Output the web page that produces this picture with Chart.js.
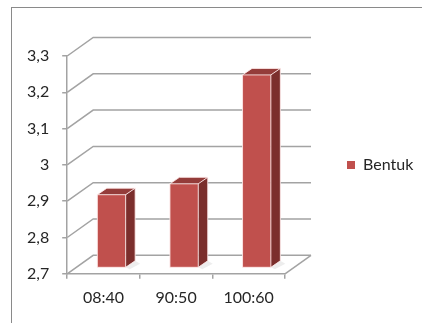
<!DOCTYPE html>
<html>
<head>
<meta charset="utf-8">
<script src="https://cdn.jsdelivr.net/npm/chart.js@4/dist/chart.umd.min.js"></script>
<style>
  body { margin: 0; background: #fff; }
  #wrap { width: 422px; height: 323px; position: relative; }
</style>
</head>
<body>
<div id="wrap"><canvas id="barChart"></canvas></div>
<script>
// Data
const categories = ['08:40', '90:50', '100:60'];
const seriesName = 'Bentuk';
const values = [2.9, 2.93, 3.23];
const yTicks = [2.7, 2.8, 2.9, 3.0, 3.1, 3.2, 3.3];

// 3D look: box depth, bar plane offset and bar depth
const DEPTH = { x: 26, y: -18.5 };
const BAR_SHIFT = { x: 8, y: -6.5 };
const BAR_DEPTH = { x: 9.5, y: -6.5 };

Chart.defaults.font.family = "Lato, 'Open Sans', sans-serif";
Chart.defaults.font.size = 16;
Chart.defaults.color = '#262626';

const threeD = {
    id: 'threeD',
    beforeDraw(chart) {
        const { ctx, chartArea: a, scales: { y } } = chart;
        ctx.save();
        ctx.fillStyle = '#fff';
        ctx.fillRect(0, 0, chart.width, chart.height);
        // outer frame
        ctx.strokeStyle = '#8a8a8a';
        ctx.lineWidth = 1;
        ctx.strokeRect(11.5, 7.5, chart.width + 20, chart.height + 20);
        // side wall + back wall grid
        ctx.strokeStyle = '#a3a3a3';
        ctx.lineWidth = 1.5;
        y.ticks.forEach(t => {
            const py = y.getPixelForValue(t.value);
            ctx.beginPath();
            ctx.moveTo(a.left, py);
            ctx.lineTo(a.left + DEPTH.x, py + DEPTH.y);
            ctx.lineTo(a.right + DEPTH.x, py + DEPTH.y);
            ctx.stroke();
        });
        // floor right edge
        ctx.beginPath();
        ctx.moveTo(a.right, a.bottom);
        ctx.lineTo(a.right + DEPTH.x, a.bottom + DEPTH.y);
        ctx.stroke();
        ctx.restore();
    },
    beforeDatasetsDraw(chart) {
        chart.ctx.save();
        chart.ctx.translate(BAR_SHIFT.x, BAR_SHIFT.y);
    },
    afterDatasetsDraw(chart) {
        const ctx = chart.ctx;
        chart.getDatasetMeta(0).data.forEach(bar => {
            const { x, y, base, width } = bar.getProps(['x', 'y', 'base', 'width'], true);
            const bottom = Math.min(base, chart.chartArea.bottom);
            const l = x - width / 2, r = x + width / 2;
            const dx = BAR_DEPTH.x, dy = BAR_DEPTH.y;
            // shadow on floor
            ctx.fillStyle = 'rgba(0,0,0,0.07)';
            ctx.beginPath();
            ctx.moveTo(r, bottom);
            ctx.lineTo(r + dx, bottom + dy);
            ctx.lineTo(r + dx + 5, bottom + dy + 3);
            ctx.lineTo(r + 4, bottom + 2);
            ctx.closePath();
            ctx.fill();
            // side
            ctx.fillStyle = '#7b2e2c';
            ctx.beginPath();
            ctx.moveTo(r, y);
            ctx.lineTo(r + dx, y + dy);
            ctx.lineTo(r + dx, bottom + dy);
            ctx.lineTo(r, bottom);
            ctx.closePath();
            ctx.fill();
            // top
            ctx.fillStyle = '#943c3a';
            ctx.beginPath();
            ctx.moveTo(l, y);
            ctx.lineTo(l + dx, y + dy);
            ctx.lineTo(r + dx, y + dy);
            ctx.lineTo(r, y);
            ctx.closePath();
            ctx.fill();
            // light edges
            ctx.strokeStyle = 'rgba(255,235,235,0.85)';
            ctx.lineWidth = 1;
            ctx.strokeRect(l, y, width, bottom - y);
            ctx.beginPath();
            ctx.moveTo(l, y);
            ctx.lineTo(l + dx, y + dy);
            ctx.lineTo(r + dx, y + dy);
            ctx.lineTo(r, y);
            ctx.moveTo(r + dx, y + dy);
            ctx.lineTo(r + dx, bottom + dy);
            ctx.lineTo(r, bottom);
            ctx.stroke();
        });
        ctx.restore();
    }
};

new Chart(document.getElementById('barChart'), {
    type: 'bar',
    data: {
        labels: categories,
        datasets: [{
            label: seriesName,
            data: values,
            backgroundColor: '#c0504d',
            borderWidth: 0,
            categoryPercentage: 1,
            barPercentage: 0.39
        }]
    },
    options: {
        responsive: true,
        maintainAspectRatio: false,
        animation: false,
        layout: { padding: { left: 14, top: 56, right: 0, bottom: 7 } },
        plugins: {
            tooltip: { enabled: false },
            legend: {
                position: 'right',
                fullSize: false,
                maxWidth: 137,
                labels: { boxWidth: 8, boxHeight: 8, padding: 62, color: '#262626' }
            }
        },
        scales: {
            y: {
                min: 2.7,
                max: 3.3,
                afterBuildTicks: axis => { axis.ticks = yTicks.map(v => ({ value: v })); },
                ticks: {
                    padding: 13,
                    callback: v => String(Math.round(v * 10) / 10).replace('.', ',')
                },
                grid: { drawOnChartArea: false, tickLength: 5, color: '#a3a3a3', lineWidth: 1.5 },
                border: { color: '#a3a3a3', width: 1.5 }
            },
            x: {
                ticks: { padding: 9 },
                grid: { drawOnChartArea: false, tickLength: 5, color: '#a3a3a3', lineWidth: 1.5 },
                border: { color: '#a3a3a3', width: 1.5 }
            }
        }
    },
    plugins: [threeD]
});
</script>
</body>
</html>
